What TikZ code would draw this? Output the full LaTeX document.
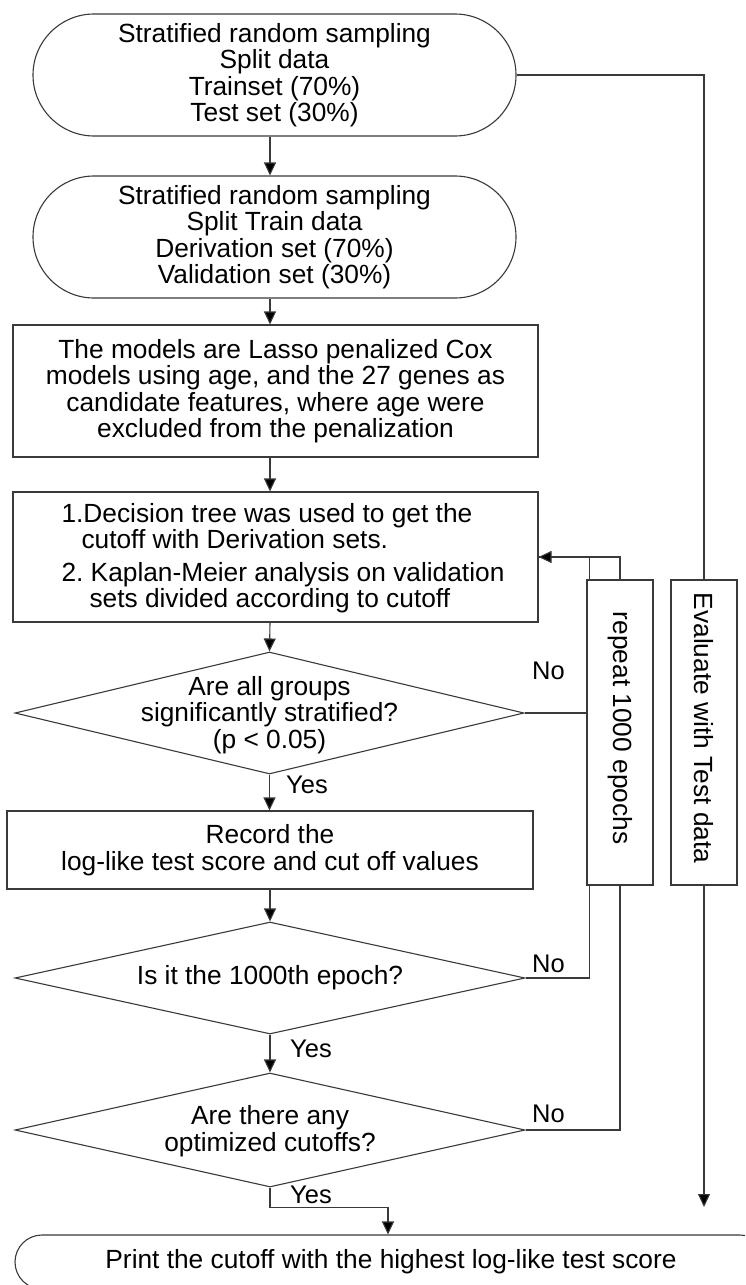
\documentclass[tikz,border=0pt]{standalone}
\usepackage{fontspec}
\setmainfont{Liberation Sans}
\usetikzlibrary{shapes.misc,shapes.geometric,arrows.meta}
\definecolor{linegray}{HTML}{3A3A3A}
\frenchspacing
\begin{document}
\begin{tikzpicture}[x=1pt,y=-1pt,
  line/.style={draw=linegray, line width=1.1pt},
  arr/.style={line, -{Triangle[length=13pt,width=12pt,fill=black]}},
  txt/.style={font=\fontsize{26.3}{26.5}\selectfont, align=center, inner sep=0pt, text=black},
  stad/.style={rounded rectangle, line, minimum height=122pt, minimum width=483pt, inner sep=0pt, txt},
  box/.style={rectangle, line, inner sep=0pt, txt},
  dia/.style={diamond, line, inner sep=0pt},
  lbl/.style={font=\fontsize{25.5}{26}\selectfont, inner sep=0pt, anchor=base west},
]
\fill[white] (0,0) rectangle (745,1285);
\clip (0,0) rectangle (745,1285);

% main column
\node[stad] (s1) at (274.5,75) {Stratified random sampling\\Split data\\Trainset (70\%)\\Test set (30\%)};
\node[stad] (s2) at (274.5,237) {Stratified random sampling\\Split Train data\\Derivation set (70\%)\\Validation set (30\%)};
\node[box, minimum width=525pt, minimum height=132pt] (r1) at (275.5,391)
  {The models are Lasso penalized Cox\\models using age, and the 27 genes as\\candidate features, where age were\\excluded from the penalization};
\node[box, minimum width=525pt, minimum height=130pt] (r2) at (275.5,557) {};
\node[txt, align=left] (r2t) at (283,558)
  {1.Decision tree was used to get the\\\hspace*{20pt}cutoff with Derivation sets.\\[6pt]2. Kaplan-Meier analysis on validation\\\hspace*{28pt}sets divided according to cutoff};
\node[dia, minimum width=509pt, minimum height=122pt] (d1) at (269.5,713) {};
\node[txt] (d1t) at (269.5,715) {Are all groups\\significantly stratified?\\(p < 0.05)};
\node[box, minimum width=526pt, minimum height=78pt] (r3) at (270,850)
  {Record the\\log-like test score and cut off values};
\node[dia, minimum width=510pt, minimum height=112pt] (d2) at (270,978) {};
\node[txt] (d2t) at (270,978) {Is it the 1000th epoch?};
\node[dia, minimum width=510pt, minimum height=114pt] (d3) at (270,1130) {};
\node[txt] (d3t) at (270,1131) {Are there any\\optimized cutoffs?};
\node[rounded rectangle, line, minimum width=752pt, minimum height=54pt, txt] (s3) at (391,1262)
  {Print the cutoff with the highest log-like test score};

% side bars
\node[rectangle, line, minimum width=66pt, minimum height=305pt] (rep) at (620,732.5) {};
\node[txt, rotate=-90] (rept) at (620,728) {repeat 1000 epochs};
\node[rectangle, line, minimum width=66pt, minimum height=305pt] (ev) at (704,732.5) {};
\node[txt, rotate=-90] (evt) at (704,728) {Evaluate with Test data};

% helper points
\coordinate (ax) at (270,0);
\coordinate (yx) at (388,0);
\coordinate (evend) at (704,1207);

% main flow
\draw[arr] (s1.south -| ax) -- (s2.north -| ax);
\draw[arr] (s2.south -| ax) -- (r1.north -| ax);
\draw[arr] (r1.south -| ax) -- (r2.north -| ax);
\draw[arr] (r2.south -| ax) -- (d1.north);
\draw[arr] (d1.south) -- (r3.north -| d1.south);
\draw[arr] (r3.south -| d2.north) -- (d2.north);
\draw[arr] (d2.south) -- (d3.north);
\draw[arr] (d3.south) -- ++(0,20) -| (s3.north -| yx);

% test-set branch
\draw[line] (s1.east) -| (ev.north);
\draw[arr] (ev.south) -- (evend);

% loop back
\draw[line] (d1.east) -- (rep.west |- d1.east);
\draw[line] (rep.north west) ++(3,0) |- (r2.east);
\draw[arr] (rep.north) |- (r2.east);
\draw[line] (rep.south west) ++(3,0) |- (d2.east);
\draw[line] (rep.south) |- (d3.east);

% branch labels
\node[lbl] (no1) at (532,679) {No};
\node[lbl] (no2) at (532,972) {No};
\node[lbl] (no3) at (532,1122) {No};
\node[lbl] (yes1) at (286,793) {Yes};
\node[lbl] (yes2) at (290,1057) {Yes};
\node[lbl] (yes3) at (290,1203) {Yes};
\end{tikzpicture}
\end{document}
